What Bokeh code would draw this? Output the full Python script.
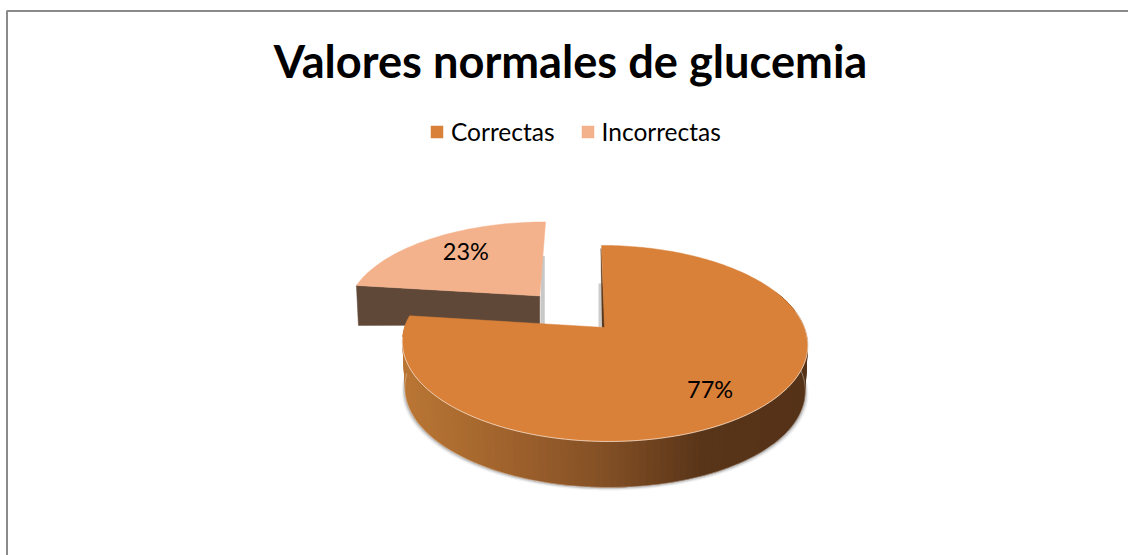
import numpy as np
from bokeh.embed import file_html
from bokeh.resources import INLINE
from bokeh.plotting import figure
from bokeh.models import Range1d, Legend, LegendItem
from bokeh.core.properties import value

# ---- data ----
title_text = "Valores normales de glucemia"
categories = ["Correctas", "Incorrectas"]
percent = [77, 23]
colors = ["#D98039", "#F4B28C"]

# ---- layout / projection ----
W, H = 1128, 555
X0, Y0, RX, RY, K, SKEW = 604, 327, 200, 95.4, 0.163, -3.5
DEPTH, XSCALE = 46, 0.988
EXPLODE_U, EXPLODE_V = -0.336, 0.35
FONT = value("Lato")


def project(u, v, dy=0.0, sx=1.0):
    """Tilted-disc perspective: disc coordinates to page pixels."""
    u, v = np.asarray(u, float), np.asarray(v, float)
    w = 1 + K * v
    return X0 + sx * (RX * u / w + SKEW * v / w), Y0 - RY * v / w + dy


def disc(theta):
    return np.sin(theta), np.cos(theta)


def rim_color(x):
    stops = [405, 500, 600, 690, 810]
    rgb = [np.interp(x, stops, c) for c in ([184, 158, 127, 88, 85], [117, 97, 77, 52, 51], [52, 44, 36, 24, 24])]
    return "#%02x%02x%02x" % tuple(int(round(c)) for c in rgb)


fractions = np.array(percent) / sum(percent)
a0, a1, a2 = 0.0, 2 * np.pi * fractions[0], 2 * np.pi

p = figure(width=W, height=H, output_backend="svg", toolbar_location=None,
           x_range=Range1d(0, W), y_range=Range1d(H, 0), min_border=0)
p.axis.visible = False
p.grid.visible = False
p.outline_line_color = None
p.background_fill_color = "white"
p.border_fill_color = "white"
p.stylesheets = [":host { position: absolute; left: 0; top: 0; }"]

# chart frame: only the top and left edges are in the picture
p.line([6.5, 6.5, W], [H, 10.5, 10.5], line_color="#8a8a8a", line_width=2)

# ---- small slice (exploded) ----
t_small = np.linspace(a1, a2, 60)
us, vs = disc(t_small)
us, vs = us + EXPLODE_U, vs + EXPLODE_V
sx, sy = project(us, vs)
ax, ay = project(EXPLODE_U, EXPLODE_V)

# grey sliver right of the slice
p.patch([float(ax) + 1, float(ax) + 5, float(ax) + 5, float(ax) + 1],
        [float(ay) - 40, float(ay) - 40, float(ay) + 28, float(ay) + 30],
        fill_color="#9a9a9a", fill_alpha=0.55, line_color=None)

# cut face of the small slice
lx, ly = sx[0], sy[0]
p.patch([lx, float(ax), float(ax), lx + 2], [ly, float(ay), float(ay) + 29, ly + 40],
        fill_color="#604838", line_color="#604838", line_width=0.5)
small_r = p.patch(list(sx) + [float(ax)], list(sy) + [float(ay)],
                  fill_color=colors[1], line_color=colors[1], line_width=0.5)

# ---- main slice ----
# soft shadow under the rim
t_rim = np.linspace(np.radians(75), np.radians(270), 160)
ur, vr = disc(t_rim)
for off, alpha in ((3.0, 0.12), (1.8, 0.25), (0.8, 0.4)):
    bx, by = project(ur, vr, DEPTH, XSCALE)
    grow = (bx - X0) * (off / 200)
    p.patch(list(bx + grow) + list(bx[::-1]), list(by + off) + list(by[::-1]),
            fill_color="#808080", fill_alpha=alpha, line_color=None)

# rim drawn as overlapping strips so it shades from right to left without seams
edges = np.linspace(np.radians(70), np.radians(277), 120)
step = edges[1] - edges[0]
xs_s, ys_s, cs = [], [], []
for t1, t2 in zip(edges[:-1], edges[1:]):
    tt = np.array([t1 - 2 * step, t1 - step, t1, t2])
    uu, vv = disc(tt)
    tx, ty = project(uu, vv)
    bx, by = project(uu, vv, DEPTH, XSCALE)
    xs_s.append(list(tx) + list(bx[::-1]))
    ys_s.append(list(ty) + list(by[::-1]))
    cs.append(rim_color(0.5 * (tx[2] + tx[3])))
p.patches(xs_s, ys_s, fill_color=cs, line_color=None)

# highlight along lower edge of the rim
bx, by = project(ur, vr, DEPTH, XSCALE)
p.line(bx, by, line_color="white", line_alpha=0.45, line_width=0.8)

# almost edge-on cut face and its shadow at twelve o'clock
tx0, ty0 = project(*disc(a0))
amx, amy = project(0.0, 0.0)
amx, amy = float(amx), float(amy)
tx0, ty0 = float(tx0), float(ty0)
p.patch([amx - 6, amx - 3.5, amx - 3.5, amx - 6], [amy - 44, amy - 44, amy, amy],
        fill_color="#9a9a9a", fill_alpha=0.5, line_color=None)
p.patch([tx0 - 0.5, amx + 0.5, amx - 2.5], [ty0 + 3, amy, amy],
        fill_color="#5a3a1e", line_color="#5a3a1e", line_width=0.5)

# top of the main slice
t_main = np.linspace(a0, a1, 240)
um, vm = disc(t_main)
mx, my = project(um, vm)
main_r = p.patch(list(mx) + [amx], list(my) + [amy],
                 fill_color=colors[0], line_color=colors[0], line_width=0.5)

# light line where top meets rim
sel = (t_main > np.radians(80)) & (t_main < np.radians(265))
p.line(mx[sel], my[sel], line_color="white", line_alpha=0.65, line_width=0.9)

# ---- percentage labels ----
mid0 = 0.5 * (a0 + a1)
lu0, lv0 = disc(mid0)
l0x, l0y = project(0.73 * lu0, 0.73 * lv0)
mid1 = 0.5 * (a1 + a2)
lu1, lv1 = disc(mid1)
l1x, l1y = project(EXPLODE_U + 0.75 * lu1, EXPLODE_V + 0.75 * lv1)
p.text([float(l0x) - 2.5, float(l1x) + 9], [float(l0y) + 4, float(l1y) - 1],
       text=[f"{percent[0]}%", f"{percent[1]}%"],
       text_font=FONT, text_font_size="23.5px", text_color="black",
       text_align="center", text_baseline="middle")

# ---- title ----
p.text([570], [60], text=[title_text], text_font=FONT, text_font_style="bold",
       text_font_size="45.2px", text_color="black", text_align="center",
       text_baseline="alphabetic")

# ---- legend ----
legend = Legend(items=[LegendItem(label=categories[0], renderers=[main_r]),
                       LegendItem(label=categories[1], renderers=[small_r])],
                orientation="horizontal", location=(429, 409),
                background_fill_alpha=0, border_line_color=None,
                glyph_width=15, glyph_height=15, label_standoff=7, spacing=25,
                padding=0, margin=0,
                label_text_font="Lato", label_text_font_size="24.5px",
                label_text_color="black")
p.add_layout(legend, "center")

open("out.html", "w").write(file_html(p, INLINE))
